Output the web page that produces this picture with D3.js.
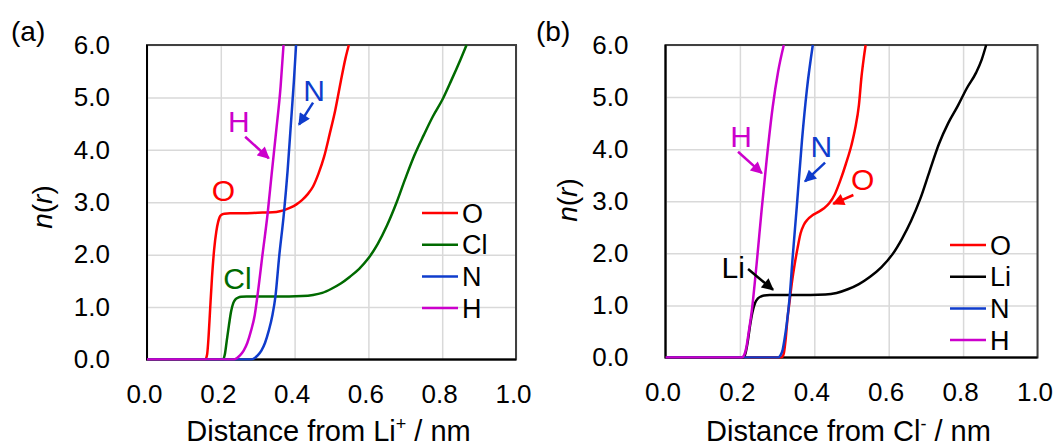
<!DOCTYPE html>
<meta charset="utf-8">
<head>
<script src="https://cdn.jsdelivr.net/npm/d3@7"></script>
<style>
    body { margin: 0; background: #fff; }
    text { font-family: "Liberation Sans", Arial, sans-serif; fill: #000; }
    .grid line { stroke: #d9d9d9; stroke-width: 1.5px; }
    .grid .domain { display: none; }
    .curve { fill: none; stroke-width: 2.5px; stroke-linejoin: round; }
</style>
</head>
<body>
<script>
var width = 1057, height = 444;

// axis ticks
var xTicks = [0, 0.2, 0.4, 0.6, 0.8, 1.0];
var yTicks = [0, 1, 2, 3, 4, 5, 6];

// panel (a): distance from Li+ (nm) and running coordination number
var aO_r  = [0, 0.158, 0.163, 0.167, 0.171, 0.176, 0.182, 0.188, 0.193, 0.197, 0.202, 0.210, 0.225, 0.26, 0.30, 0.34, 0.36, 0.375, 0.39, 0.405, 0.42, 0.435, 0.45, 0.465, 0.48, 0.495, 0.51, 0.525, 0.538, 0.547];
var aO_n  = [0, 0, 0.1, 0.45, 0.95, 1.55, 2.1, 2.45, 2.63, 2.72, 2.76, 2.78, 2.79, 2.79, 2.80, 2.81, 2.83, 2.86, 2.90, 2.96, 3.04, 3.15, 3.30, 3.55, 3.87, 4.3, 4.75, 5.3, 5.75, 6.0];
var aCl_r = [0, 0.206, 0.211, 0.216, 0.222, 0.228, 0.234, 0.240, 0.247, 0.255, 0.27, 0.35, 0.42, 0.45, 0.475, 0.50, 0.525, 0.55, 0.575, 0.60, 0.625, 0.65, 0.675, 0.70, 0.725, 0.75, 0.775, 0.80, 0.825, 0.85, 0.866];
var aCl_n = [0, 0, 0.1, 0.35, 0.65, 0.92, 1.08, 1.15, 1.18, 1.195, 1.2, 1.2, 1.21, 1.23, 1.27, 1.35, 1.45, 1.58, 1.73, 1.93, 2.2, 2.55, 2.97, 3.45, 3.9, 4.28, 4.64, 4.95, 5.33, 5.73, 6.0];
var aN_r  = [0, 0.284, 0.292, 0.300, 0.310, 0.320, 0.330, 0.340, 0.348, 0.358, 0.371, 0.381, 0.390, 0.398, 0.404];
var aN_n  = [0, 0, 0.03, 0.08, 0.17, 0.32, 0.55, 0.85, 1.2, 1.95, 2.79, 3.6, 4.5, 5.3, 6.0];
var aH_r  = [0, 0.236, 0.244, 0.252, 0.262, 0.272, 0.282, 0.292, 0.300, 0.313, 0.327, 0.338, 0.350, 0.362, 0.370];
var aH_n  = [0, 0, 0.03, 0.08, 0.17, 0.32, 0.55, 0.85, 1.25, 2.0, 2.79, 3.55, 4.35, 5.2, 6.0];

// panel (b): distance from Cl- (nm)
var bO_r  = [0, 0.312, 0.318, 0.323, 0.328, 0.334, 0.340, 0.347, 0.355, 0.363, 0.372, 0.382, 0.395, 0.41, 0.425, 0.44, 0.455, 0.47, 0.485, 0.50, 0.51, 0.52, 0.527, 0.533, 0.538];
var bO_n  = [0, 0, 0.08, 0.35, 0.75, 1.1, 1.45, 1.78, 2.1, 2.38, 2.55, 2.65, 2.73, 2.79, 2.86, 2.96, 3.13, 3.4, 3.72, 4.08, 4.4, 4.85, 5.4, 5.75, 6.0];
var bLi_r = [0, 0.210, 0.215, 0.221, 0.227, 0.234, 0.241, 0.248, 0.256, 0.265, 0.28, 0.35, 0.43, 0.46, 0.49, 0.52, 0.55, 0.58, 0.61, 0.635, 0.66, 0.685, 0.71, 0.735, 0.76, 0.785, 0.81, 0.835, 0.85, 0.862];
var bLi_n = [0, 0, 0.08, 0.3, 0.6, 0.88, 1.05, 1.13, 1.17, 1.19, 1.2, 1.2, 1.21, 1.24, 1.31, 1.41, 1.55, 1.73, 1.98, 2.27, 2.62, 3.05, 3.58, 4.1, 4.5, 4.82, 5.17, 5.47, 5.72, 6.0];
var bN_r  = [0, 0.303, 0.309, 0.315, 0.320, 0.326, 0.333, 0.342, 0.353, 0.367, 0.380, 0.396];
var bN_n  = [0, 0, 0.04, 0.15, 0.35, 0.65, 1.1, 1.94, 2.9, 4.18, 5.14, 6.0];
var bH_r  = [0, 0.205, 0.211, 0.217, 0.224, 0.232, 0.245, 0.258, 0.272, 0.288, 0.303, 0.318];
var bH_n  = [0, 0, 0.04, 0.18, 0.5, 0.9, 1.8, 2.8, 3.8, 4.8, 5.5, 6.0];

var colors = {O: "#ff0000", Cl: "#006a00", N: "#0f3ccc", H: "#cc00cc", Li: "#000000"};

function zip(r, n) {
    return r.map(function (d, i) { return [d, n[i]]; });
}

var panels = [
    {
        label: "(a)", labelX: 11, labelY: 41,
        left: 147, right: 516, top: 45, bottom: 359.5,
        ytitleX: 42, ytitleY: 207,
        ion: "Li", sign: "+",
        series: [
            {name: "O", data: zip(aO_r, aO_n)},
            {name: "Cl", data: zip(aCl_r, aCl_n)},
            {name: "N", data: zip(aN_r, aN_n)},
            {name: "H", data: zip(aH_r, aH_n)}
        ],
        legendX: 422, legendY: 213,
        // annotation text position and arrow [from, to] in data units
        notes: [
            {name: "O", at: [0.207, 3.23]},
            {name: "H", at: [0.249, 4.54], arrow: [[0.266, 4.25], [0.330, 3.84]]},
            {name: "N", at: [0.453, 5.14], arrow: [[0.450, 4.90], [0.412, 4.48]]},
            {name: "Cl", at: [0.245, 1.56]}
        ]
    },
    {
        label: "(b)", labelX: 536, labelY: 41,
        left: 665.5, right: 1037.5, top: 45, bottom: 357.5,
        ytitleX: 567, ytitleY: 200,
        ion: "Cl", sign: "-",
        series: [
            {name: "O", data: zip(bO_r, bO_n)},
            {name: "Li", data: zip(bLi_r, bLi_n)},
            {name: "N", data: zip(bN_r, bN_n)},
            {name: "H", data: zip(bH_r, bH_n)}
        ],
        legendX: 950, legendY: 245,
        notes: [
            {name: "H", at: [0.203, 4.24], arrow: [[0.195, 3.95], [0.259, 3.54]]},
            {name: "Li", at: [0.182, 1.74], arrow: [[0.222, 1.70], [0.289, 1.30]]},
            {name: "N", at: [0.419, 4.05], arrow: [[0.429, 3.74], [0.375, 3.38]]},
            {name: "O", at: [0.530, 3.43], arrow: [[0.505, 3.12], [0.451, 2.95]]}
        ]
    }
];

var svg = d3.select("body").append("svg")
    .attr("width", width)
    .attr("height", height);

var defs = svg.append("defs");
Object.keys(colors).forEach(function (k) {
    defs.append("marker")
        .attr("id", "arrow-" + k)
        .attr("viewBox", "0 0 10 10")
        .attr("refX", 9).attr("refY", 5)
        .attr("markerUnits", "userSpaceOnUse")
        .attr("markerWidth", 13).attr("markerHeight", 12)
        .attr("orient", "auto")
        .append("path")
        .attr("d", "M0,0 L10,5 L0,10 z")
        .attr("fill", colors[k]);
});

panels.forEach(function (p, pi) {
    var x = d3.scaleLinear().domain([0, 1]).range([p.left, p.right]);
    var y = d3.scaleLinear().domain([0, 6]).range([p.bottom, p.top]);
    var g = svg.append("g");

    // grid + tick labels
    g.append("g")
        .attr("class", "grid")
        .attr("transform", "translate(0," + p.bottom + ")")
        .call(d3.axisBottom(x).tickValues(xTicks).tickSize(-(p.bottom - p.top))
            .tickPadding(25).tickFormat(d3.format(".1f")))
        .selectAll("text")
        .attr("dx", -3)
        .style("font-size", "26px");

    g.append("g")
        .attr("class", "grid")
        .attr("transform", "translate(" + p.left + ",0)")
        .call(d3.axisLeft(y).tickValues(yTicks).tickSize(-(p.right - p.left))
            .tickPadding(37).tickFormat(d3.format(".1f")))
        .selectAll("text")
        .style("font-size", "26px");

    // plot frame
    g.append("rect")
        .attr("x", p.left).attr("y", p.top)
        .attr("width", p.right - p.left).attr("height", p.bottom - p.top)
        .attr("fill", "none")
        .attr("stroke", "#404040")
        .attr("stroke-width", 2);
    g.append("path")
        .attr("d", "M" + p.left + "," + p.top + "V" + p.bottom + "H" + p.right)
        .attr("fill", "none")
        .attr("stroke", "#000")
        .attr("stroke-width", 2);

    // curves
    g.append("clipPath").attr("id", "clip" + pi)
        .append("rect")
        .attr("x", p.left).attr("y", p.top - 1)
        .attr("width", p.right - p.left).attr("height", p.bottom - p.top + 2);

    var line = d3.line()
        .x(function (d) { return x(d[0]); })
        .y(function (d) { return y(d[1]); })
        .curve(d3.curveMonotoneX);

    g.append("g").attr("clip-path", "url(#clip" + pi + ")")
        .selectAll("path")
        .data(p.series)
        .enter()
        .append("path")
        .attr("class", "curve")
        .attr("stroke", function (d) { return colors[d.name]; })
        .attr("d", function (d) { return line(d.data); });

    // legend
    var leg = g.selectAll(".leg")
        .data(p.series)
        .enter()
        .append("g")
        .attr("transform", function (d, i) {
            return "translate(" + p.legendX + "," + (p.legendY + i * 31.7) + ")";
        });
    leg.append("line")
        .attr("x1", 0).attr("x2", 36)
        .attr("stroke", function (d) { return colors[d.name]; })
        .attr("stroke-width", 2.5);
    leg.append("text")
        .attr("x", 40)
        .attr("dy", "0.36em")
        .style("font-size", "27px")
        .text(function (d) { return d.name; });

    // annotations
    p.notes.forEach(function (n) {
        g.append("text")
            .attr("x", x(n.at[0]))
            .attr("y", y(n.at[1]))
            .attr("dy", "0.36em")
            .attr("text-anchor", "middle")
            .style("font-size", "30px")
            .style("fill", colors[n.name])
            .text(n.name);
        if (n.arrow) {
            g.append("line")
                .attr("x1", x(n.arrow[0][0])).attr("y1", y(n.arrow[0][1]))
                .attr("x2", x(n.arrow[1][0])).attr("y2", y(n.arrow[1][1]))
                .attr("stroke", colors[n.name])
                .attr("stroke-width", 2.5)
                .attr("marker-end", "url(#arrow-" + n.name + ")");
        }
    });

    // panel label
    g.append("text")
        .attr("x", p.labelX).attr("y", p.labelY)
        .style("font-size", "28px")
        .text(p.label);

    // y title n(r)
    var yt = g.append("text")
        .attr("transform", "translate(" + p.ytitleX + "," + p.ytitleY + ") rotate(-90)")
        .attr("text-anchor", "middle")
        .attr("dy", "0.36em")
        .style("font-size", "28px");
    yt.append("tspan").style("font-style", "italic").text("n");
    yt.append("tspan").text("(");
    yt.append("tspan").style("font-style", "italic").text("r");
    yt.append("tspan").text(")");

    // x title
    var xt = g.append("text")
        .attr("x", (p.left + p.right) / 2 - 3)
        .attr("y", 441)
        .attr("text-anchor", "middle")
        .style("font-size", "29px");
    xt.append("tspan").text("Distance from " + p.ion);
    xt.append("tspan").attr("dy", -11).style("font-size", "18px").text(p.sign);
    xt.append("tspan").attr("dy", 11).text(" / nm");
});
</script>
</body>
</html>
